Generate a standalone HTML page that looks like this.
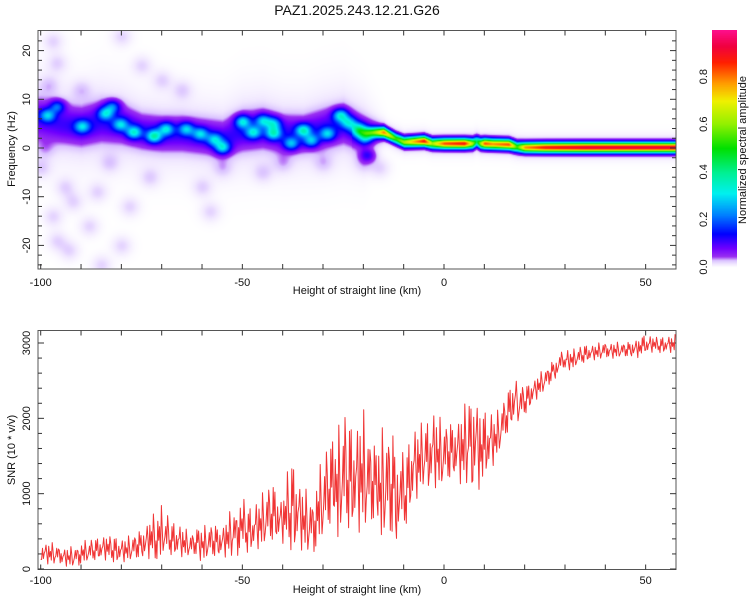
<!DOCTYPE html>
<html><head><meta charset="utf-8">
<style>
body{margin:0;background:#fff;width:750px;height:600px;overflow:hidden;position:relative;font-family:"Liberation Sans",sans-serif;}
canvas{position:absolute;}
svg{position:absolute;left:0;top:0;}
text{font-family:"Liberation Sans",sans-serif;fill:#111;}
</style></head><body>
<canvas id="spec" width="638" height="239" style="left:38px;top:30px"></canvas>
<canvas id="cbar" width="25" height="238" style="left:712px;top:30px"></canvas>
<svg id="svg" width="750" height="600">
<text x="357" y="15" font-size="14" text-anchor="middle">PAZ1.2025.243.12.21.G26</text>
<text x="357" y="294" font-size="11" text-anchor="middle">Height of straight line (km)</text>
<text x="357" y="593" font-size="11" text-anchor="middle">Height of straight line (km)</text>
<text x="0" y="0" font-size="11" text-anchor="middle" transform="translate(15,149) rotate(-90)">Frequency (Hz)</text>
<text x="0" y="0" font-size="11" text-anchor="middle" transform="translate(15,450) rotate(-90)">SNR (10 * v/v)</text>
<text x="0" y="0" font-size="11" text-anchor="middle" transform="translate(746,150) rotate(-90)">Normalized spectral amplitude</text>
<g id="axes"></g>
<polyline id="snr" fill="none" stroke="#f03535" stroke-width="1" stroke-linejoin="round"/>
</svg>
<script>
// ---- spectrogram data ----
const bandKm=[-100,-95,-90,-85,-80,-75,-70,-65,-60,-55,-50,-45,-40,-35,-30,-25,-20,-17,-14];
const bandHz=[6,5,4.5,5.5,5,3.5,3,3,2.5,2,3.5,4,3,3,4,5,3,3.3,3];
const bandW=[2.6,2.4,2.4,2.5,2.4,2.2,2.2,2.2,2.2,2.2,2.4,2.4,2.3,2.3,2.4,2.4,2.2,1.6,1.2];
const bandAmp=[0.085,0.09,0.095,0.095,0.095,0.09,0.09,0.09,0.09,0.09,0.095,0.095,0.095,0.09,0.095,0.095,0.09,0.05,0.0];
const ridgeKm=[-20,-15,-12,-10,-5,-3,0,5,7,8,9,10,12,16,18,20,25,35,45,58];
const ridgeHz=[3.3,3.3,2,1.3,1.5,1.0,1.0,1.0,1.0,1.4,1.0,1.0,0.9,0.8,0.3,0.2,0.2,0.2,0.2,0.2];
const ridgeAmp=[0.2,0.75,0.5,0.6,0.85,0.6,0.8,0.85,0.6,0.4,0.6,0.8,0.75,0.8,0.5,0.75,0.85,0.9,0.9,0.9];
const spotKm=[-98.4,-96,-89.8,-84,-82.3,-80.3,-77,-72,-69,-64,-60.5,-57,-55,-50,-47.4,-45,-42.4,-42.4,-38,-35,-33,-29,-25.8,-23.8,-21.3,-19.6,-19];
const spotHz=[6.8,8.6,4.5,7.2,8.6,4.9,3.3,2.5,4,4,3,1.8,0.2,5.5,3.3,5.7,5.1,3.1,1,3.7,1.6,3,6.8,5.3,4,2.3,-1.4];
const spotAmp=[0.2,0.16,0.2,0.22,0.16,0.2,0.24,0.28,0.22,0.2,0.2,0.2,0.24,0.24,0.22,0.2,0.2,0.24,0.2,0.26,0.2,0.2,0.24,0.2,0.22,0.2,0.09];
const scatKm=[-97,-96,-98,-94,-97,-96,-93,-88,-85,-80,-78,-73,-70,-75,-90,-60,-55,-65,-80,-83,-45,-40,-30,-20,-16,-58,-99,-100,-92,-86];
const scatHz=[22,17.5,13,-8,-14,-19,-21,-16,-24,-20,-12,-6,14,17,12,-8,-4,12,23,-3,-5,-3,-3,-3,-4,-13,0,-4,-11,-9];
// ---- SNR data (envelope per 2.5 km) ----
const snrKm=[];for(let k=-100;k<=57.5;k+=2.5)snrKm.push(k);
const snrLow=[30,30,30,30,40,40,50,60,60,80,80,100,100,100,100,100,100,100,120,120,150,200,200,200,250,200,200,150,150,300,300,300,300,400,400,300,250,700,900,1000,1000,1100,1000,1000,1100,1300,1600,1800,2000,2200,2350,2500,2600,2650,2700,2750,2750,2800,2800,2800,2800,2850,2850,2850];
const snrHigh=[420,380,350,350,380,400,450,500,450,500,600,760,850,650,600,500,650,700,650,900,950,800,1100,1250,1000,1750,1250,1100,1500,1800,2300,2100,2300,1800,2250,2200,1500,1900,2000,2250,2100,2100,2250,2900,2100,2100,2300,2650,2500,2600,2700,2850,2900,2950,3000,3000,3050,3050,3050,3100,3100,3100,3100,3150];
const xTicks=[-100,-50,0,50];
const freqTicks=[20,10,0,-10,-20];
const snrTicks=[0,1000,2000,3000];
const cbTicks=[0.0,0.2,0.4,0.6,0.8];

const X=km=>444+km*4.033;
const YF=hz=>148-hz*4.87;
const YS=v=>569-v*0.07533;
const CB=v=>267-v*238;

function interp(xs,ys,x){if(x<=xs[0])return ys[0];for(let i=1;i<xs.length;i++){if(x<=xs[i]){const t=(x-xs[i-1])/(xs[i]-xs[i-1]);return ys[i-1]+t*(ys[i]-ys[i-1]);}}return ys[ys.length-1];}

const cmV=[0,0.015,0.03,0.045,0.08,0.14,0.22,0.31,0.4,0.5,0.6,0.7,0.77,0.86,0.93,1.0];
const cmC=[[255,255,255],[240,230,255],[217,192,255],[154,48,240],[112,0,255],[0,0,255],[0,128,255],[0,240,240],[0,240,144],[0,224,0],[144,240,0],[240,240,0],[255,160,0],[255,32,0],[240,0,64],[255,16,144]];
function cmap(v){v=Math.max(0,Math.min(1,v));for(let i=1;i<cmV.length;i++){if(v<=cmV[i]){const t=(v-cmV[i-1])/(cmV[i]-cmV[i-1]);return cmC[i-1].map((c,j)=>Math.round(c+t*(cmC[i][j]-c)));}}return cmC[cmC.length-1];}

// heatmap
(function(){
const cv=document.getElementById('spec'),ctx=cv.getContext('2d');
const W=cv.width,H=cv.height,img=ctx.createImageData(W,H);
for(let px=0;px<W;px++){
 const km=(px+38-444)/4.033;
 const inBand=km<=bandKm[bandKm.length-1];
 const bc=interp(bandKm,bandHz,km),bw=interp(bandKm,bandW,km),ba=interp(bandKm,bandAmp,km);
 const inR=km>=ridgeKm[0]-3;
 const rc=interp(ridgeKm,ridgeHz,km),ra=interp(ridgeKm,ridgeAmp,km)*Math.min(1,Math.max(0,(km-ridgeKm[0]+3)/3));
 for(let py=0;py<H;py++){
  const hz=(148-(py+30))/4.87;let v=0;
  if(inBand){const d=hz-bc;v+=ba*Math.exp(-d*d/(2*bw*bw))+ba*0.2*Math.exp(-d*d/(2*6*bw*bw));}
  if(inR){const d=hz-rc;v+=ra*Math.exp(-d*d/(2*0.7*0.7))+0.03*Math.exp(-d*d/(2*1.5*1.5));}
  for(let i=0;i<spotKm.length;i++){const a=(km-spotKm[i])/1.3,b=(hz-spotHz[i])/0.9;v+=spotAmp[i]*Math.exp(-(a*a+b*b)/2);}
  for(let i=0;i<scatKm.length;i++){const a=(km-scatKm[i])/1.7,b=(hz-scatHz[i])/1.4;v+=0.022*Math.exp(-(a*a+b*b)/2);}
  const c=cmap(v),o=(py*W+px)*4;img.data[o]=c[0];img.data[o+1]=c[1];img.data[o+2]=c[2];img.data[o+3]=255;
 }}
ctx.putImageData(img,0,0);
const cb=document.getElementById('cbar'),c2=cb.getContext('2d');
for(let y=0;y<cb.height;y++){const v=(267-(y+30))/238;const c=cmap(v);c2.fillStyle=`rgb(${c[0]},${c[1]},${c[2]})`;c2.fillRect(0,y,25,1);}
})();

// axes
const NS='http://www.w3.org/2000/svg',g=document.getElementById('axes');
function el(tag,attrs,txt){const e=document.createElementNS(NS,tag);for(const k in attrs)e.setAttribute(k,attrs[k]);if(txt!==undefined)e.textContent=txt;g.appendChild(e);return e;}
function frame(top,bot,name){const r=el('rect',{x:38,y:top,width:638,height:bot-top,fill:'none',stroke:'#555','stroke-width':1});}
frame(30.5,269,'top-plot-frame');frame(330.5,569.5,'bottom-plot-frame');
for(let k=-100;k<=50;k+=10){const x=X(k);
 for(const [t,b] of [[30.5,269],[330.5,569.5]]){
  const l1=el('line',{x1:x,x2:x,y1:t,y2:t+5,stroke:'#333'});
  const l2=el('line',{x1:x,x2:x,y1:b,y2:b-5,stroke:'#333'});}}
xTicks.forEach(k=>{for(const y of [286,584]){const t=el('text',{x:X(k),y:y,'font-size':11,'text-anchor':'middle'},String(k));}});
for(let h=-24;h<=22;h+=2){const y=YF(h),L=(h%10===0)?6:4;
 const a=el('line',{x1:38,x2:38+L,y1:y,y2:y,stroke:'#333'});
 const b=el('line',{x1:676,x2:676-L,y1:y,y2:y,stroke:'#333'});}
freqTicks.forEach(h=>{const t=el('text',{'font-size':11,'text-anchor':'middle',transform:`translate(30,${YF(h)}) rotate(-90)`},String(h));});
for(let v=0;v<=3100;v+=200){const y=YS(v),L=(v%1000===0)?6:4;
 const a=el('line',{x1:38,x2:38+L,y1:y,y2:y,stroke:'#333'});
 const b=el('line',{x1:676,x2:676-L,y1:y,y2:y,stroke:'#333'});}
snrTicks.forEach(v=>{const t=el('text',{'font-size':11,'text-anchor':'middle',transform:`translate(30,${YS(v)}) rotate(-90)`},String(v));});
cbTicks.forEach(v=>{const t=el('text',{'font-size':11,'text-anchor':'middle',transform:`translate(707,${CB(v)}) rotate(-90)`},v.toFixed(1));});

// SNR line
(function(){const pts=[];let i=0;
for(let k=-100;k<=57.5;k+=0.22,i++){const lo=interp(snrKm,snrLow,k),hi=interp(snrKm,snrHigh,k);
 const a=(i*0.7548776662+0.13)%1,b=(i*0.5698402910+0.5)%1;
 const f=Math.max(Math.sqrt(a*b),Math.pow(b,3));
 pts.push(X(k).toFixed(1)+','+YS(lo+(hi-lo)*f).toFixed(1));}
document.getElementById('snr').setAttribute('points',pts.join(' '));})();
</script>
</body></html>
